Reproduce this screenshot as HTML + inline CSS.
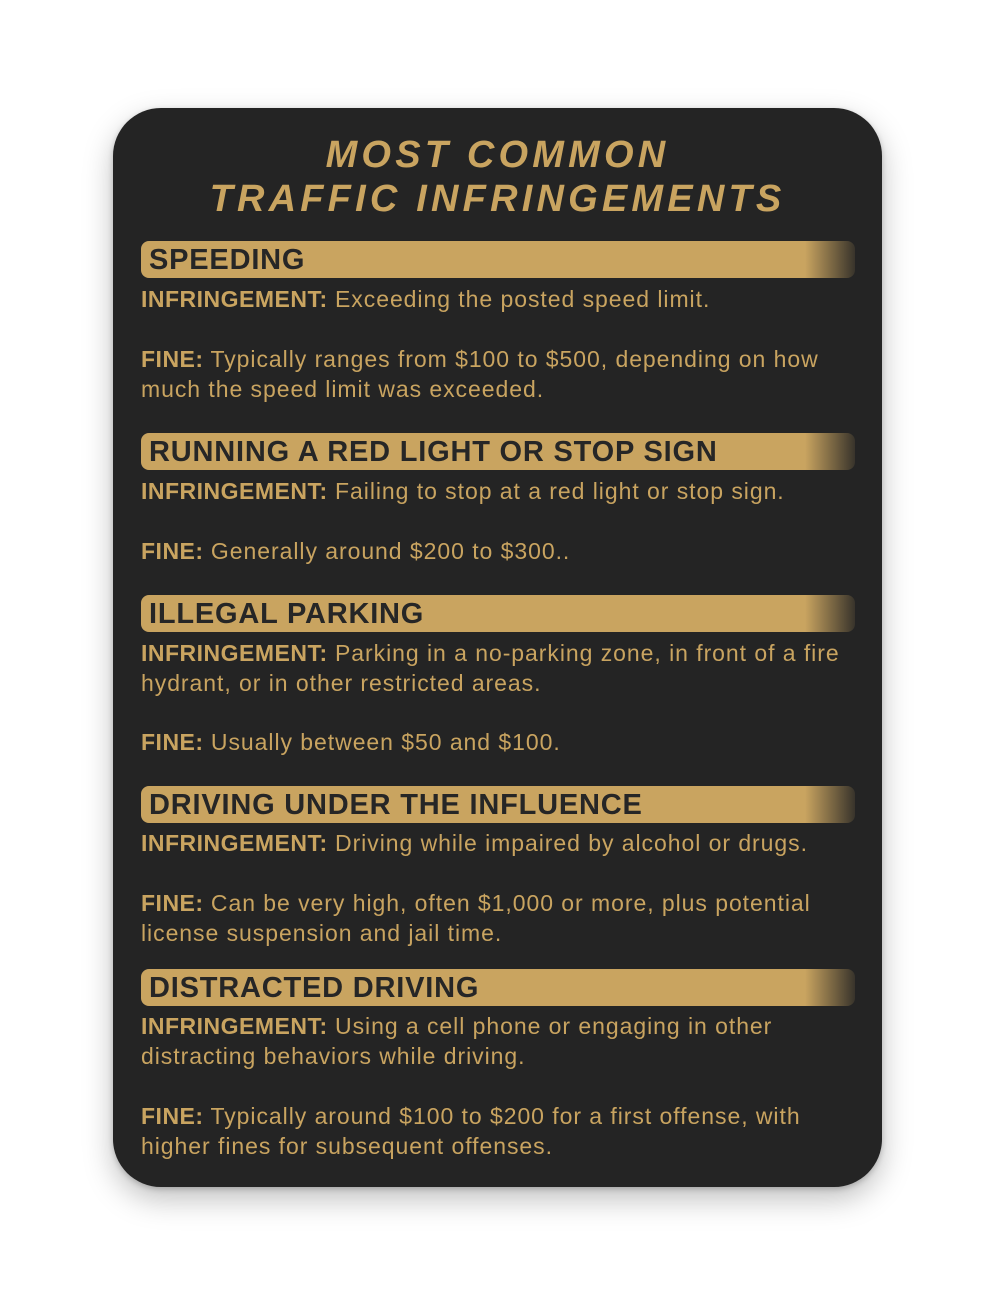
<!DOCTYPE html>
<html><head><style>
body{margin:0;width:1000px;height:1300px;background:#fff;position:relative;overflow:hidden;font-family:"Liberation Sans",sans-serif}
.card{position:absolute;left:113px;top:108px;width:769px;height:1079px;border-radius:48px;background:#242424;box-shadow:0 12px 30px rgba(0,0,0,.25),0 2px 6px rgba(0,0,0,.2)}
.title{position:absolute;left:113px;width:769px;text-align:center;color:#c9a460;font-style:italic;font-weight:bold;font-size:38px;letter-spacing:4.2px;line-height:44px;top:133px}
.bar{position:absolute;left:141px;width:714px;height:37px;border-radius:8px;background:linear-gradient(to right,#c9a460 0,#c9a460 93%,rgba(201,164,96,0.12) 100%)}
.bar span{position:absolute;left:8px;top:2px;font-weight:bold;font-size:29px;letter-spacing:0.8px;color:#262626;line-height:34px;white-space:nowrap}
.t{position:absolute;left:141px;width:740px;color:#c9a460;font-size:23px;letter-spacing:0.95px;line-height:30px;white-space:nowrap}
.t b{font-weight:bold;letter-spacing:0.5px}
</style></head><body>
<div class="card"></div>
<div class="title">MOST COMMON<br>TRAFFIC INFRINGEMENTS</div>

<div class="bar" style="top:241px"><span>SPEEDING</span></div>
<div class="t" style="top:284px"><b>INFRINGEMENT:</b> Exceeding the posted speed limit.</div>
<div class="t" style="top:344px"><b>FINE:</b> Typically ranges from $100 to $500, depending on how<br>much the speed limit was exceeded.</div>

<div class="bar" style="top:433px"><span>RUNNING A RED LIGHT OR STOP SIGN</span></div>
<div class="t" style="top:476px"><b>INFRINGEMENT:</b> Failing to stop at a red light or stop sign.</div>
<div class="t" style="top:536px"><b>FINE:</b> Generally around $200 to $300..</div>

<div class="bar" style="top:595px"><span>ILLEGAL PARKING</span></div>
<div class="t" style="top:638px"><b>INFRINGEMENT:</b> Parking in a no-parking zone, in front of a fire<br>hydrant, or in other restricted areas.</div>
<div class="t" style="top:727px"><b>FINE:</b> Usually between $50 and $100.</div>

<div class="bar" style="top:786px"><span>DRIVING UNDER THE INFLUENCE</span></div>
<div class="t" style="top:828px"><b>INFRINGEMENT:</b> Driving while impaired by alcohol or drugs.</div>
<div class="t" style="top:888px"><b>FINE:</b> Can be very high, often $1,000 or more, plus potential<br>license suspension and jail time.</div>

<div class="bar" style="top:969px"><span>DISTRACTED DRIVING</span></div>
<div class="t" style="top:1011px"><b>INFRINGEMENT:</b> Using a cell phone or engaging in other<br>distracting behaviors while driving.</div>
<div class="t" style="top:1101px"><b>FINE:</b> Typically around $100 to $200 for a first offense, with<br>higher fines for subsequent offenses.</div>
</body></html>
